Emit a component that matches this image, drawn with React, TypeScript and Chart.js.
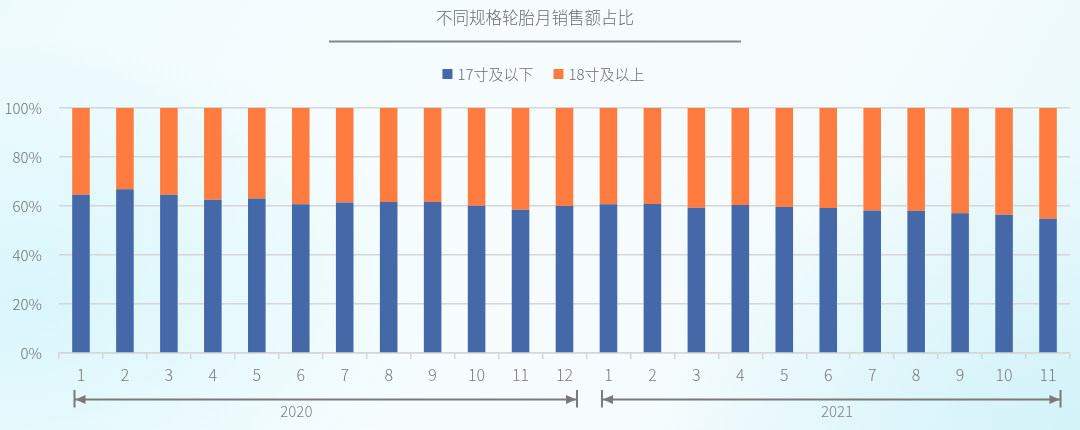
import React, { useEffect, useRef } from 'react';
import { Chart, registerables } from 'chart.js';

Chart.register(...registerables);

const titleText = '不同规格轮胎月销售额占比';
const seriesNames = ['17寸及以下', '18寸及以上'];
const months = ['1', '2', '3', '4', '5', '6', '7', '8', '9', '10', '11', '12',
  '1', '2', '3', '4', '5', '6', '7', '8', '9', '10', '11'];
const below17 = [64.6, 66.8, 64.6, 62.6, 63.1, 60.7, 61.4, 61.6, 61.6, 60.1, 58.5, 60.0,
  60.7, 60.8, 59.3, 60.4, 59.6, 59.2, 58.2, 58.1, 57.0, 56.4, 54.8];
const above18 = [35.4, 33.2, 35.4, 37.4, 36.9, 39.3, 38.6, 38.4, 38.4, 39.9, 41.5, 40.0,
  39.3, 39.2, 40.7, 39.6, 40.4, 40.8, 41.8, 41.9, 43.0, 43.6, 45.2];
const years = ['2020', '2021'];
const yearFirstIndex = [0, 12];
const yearLastIndex = [11, 22];
const yTicks = [0, 20, 40, 60, 80, 100];

const BLUE = '#4569a8';
const ORANGE = '#ff7c40';
const FONT = '"Noto Sans CJK SC", "Noto Sans", sans-serif';

const overlay = {
  id: 'overlay',
  afterDraw(chart: any) {
    const ctx = chart.ctx;
    const x = chart.scales.x;
    ctx.save();
    // Title
    ctx.fillStyle = '#6b6b6b';
    ctx.font = `300 16.5px ${FONT}`;
    ctx.textAlign = 'center';
    ctx.textBaseline = 'middle';
    ctx.fillText(titleText, 535, 18);
    // underline
    ctx.strokeStyle = '#858585';
    ctx.lineWidth = 2;
    ctx.beginPath();
    ctx.moveTo(329, 41.5);
    ctx.lineTo(741, 41.5);
    ctx.stroke();
    // Legend
    ctx.font = `300 15px ${FONT}`;
    ctx.textAlign = 'left';
    const colors = [BLUE, ORANGE];
    const widths = seriesNames.map((s) => ctx.measureText(s).width);
    const box = 10, gap = 5, itemGap = 20;
    const total = widths.reduce((a, w) => a + box + gap + w, 0) + itemGap * (seriesNames.length - 1);
    let lx = 543.5 - total / 2;
    seriesNames.forEach((s, i) => {
      ctx.fillStyle = colors[i];
      ctx.fillRect(lx, 69, box, box);
      ctx.fillStyle = '#6b6b6b';
      ctx.fillText(s, lx + box + gap, 74.5);
      lx += box + gap + widths[i] + itemGap;
    });
    // Year arrows
    const ay = 399.5;
    ctx.strokeStyle = '#7a7a7a';
    ctx.fillStyle = '#7a7a7a';
    years.forEach((yr, i) => {
      const x1 = x.getPixelForValue(yearFirstIndex[i]) - 6.5;
      const x2 = x.getPixelForValue(yearLastIndex[i]) + 12.5;
      ctx.lineWidth = 2;
      ctx.beginPath();
      ctx.moveTo(x1, ay);
      ctx.lineTo(x2, ay);
      ctx.moveTo(x1, 390);
      ctx.lineTo(x1, 407.5);
      ctx.moveTo(x2, 390);
      ctx.lineTo(x2, 407.5);
      ctx.stroke();
      ctx.beginPath();
      ctx.moveTo(x1 + 1, ay);
      ctx.lineTo(x1 + 11, ay - 4.5);
      ctx.lineTo(x1 + 11, ay + 4.5);
      ctx.closePath();
      ctx.fill();
      ctx.beginPath();
      ctx.moveTo(x2 - 1, ay);
      ctx.lineTo(x2 - 11, ay - 4.5);
      ctx.lineTo(x2 - 11, ay + 4.5);
      ctx.closePath();
      ctx.fill();
    });
    // Year labels
    ctx.fillStyle = '#808080';
    ctx.font = `300 15px ${FONT}`;
    ctx.textAlign = 'center';
    ctx.textBaseline = 'middle';
    const labelAt = [4.9, 17.2];
    years.forEach((yr, i) => {
      ctx.fillText(yr, x.getPixelForValue(labelAt[i]), 411.5);
    });
    ctx.restore();
  },
};

export default function App() {
  const ref = useRef<HTMLCanvasElement>(null);
  useEffect(() => {
    if (!ref.current) return;
    const chart = new Chart(ref.current, {
      type: 'bar',
      data: {
        labels: months,
        datasets: [
          { label: seriesNames[0], data: below17, backgroundColor: BLUE, borderWidth: 0 },
          { label: seriesNames[1], data: above18, backgroundColor: ORANGE, borderWidth: 0 },
        ],
      },
      options: {
        animation: false,
        responsive: true,
        maintainAspectRatio: false,
        layout: { padding: { top: 108, right: 10, bottom: 0, left: 0 } },
        datasets: { bar: { barPercentage: 0.4, categoryPercentage: 1 } },
        plugins: {
          legend: { display: false },
          title: { display: false },
          tooltip: { enabled: false },
        },
        scales: {
          x: {
            stacked: true,
            afterFit: (s: any) => { s.height = 77; },
            grid: {
              display: true,
              drawOnChartArea: false,
              drawTicks: true,
              tickLength: 6,
              color: '#d6d6d6',
              lineWidth: 1.5,
              offset: true,
            },
            border: { display: true, color: '#d6d6d6', width: 1.5 },
            ticks: {
              color: '#7a7a7a',
              font: { family: FONT, size: 16, weight: '300' },
              padding: 6,
              maxRotation: 0,
              autoSkip: false,
            },
          },
          y: {
            stacked: true,
            min: 0,
            max: 100,
            afterFit: (s: any) => { s.width = 59; },
            afterBuildTicks: (s: any) => { s.ticks = yTicks.map((v) => ({ value: v })); },
            grid: { color: '#d6d6d6', lineWidth: 1.5, drawTicks: false },
            border: { display: false },
            ticks: {
              color: '#707070',
              font: { family: FONT, size: 15, weight: '300' },
              padding: 17,
              callback: (v: any) => `${v}%`,
            },
          },
        },
      },
      plugins: [overlay],
    } as any);
    return () => chart.destroy();
  }, []);
  return (
    <div
      style={{
        position: 'fixed',
        left: 0,
        top: 0,
        width: 1080,
        height: 430,
        background:
          'radial-gradient(ellipse 420px 260px at 20px 300px, #d9f6fb 0%, rgba(217,246,251,0) 100%),' +
          'radial-gradient(ellipse 420px 280px at 1080px 420px, #d3f3f9 0%, rgba(211,243,249,0) 100%),' +
          'linear-gradient(120deg, #eefbfd 0%, #f7fdfe 40%, #f6fcfd 65%, #e6f8fb 100%)',
      }}
    >
      <canvas ref={ref} />
    </div>
  );
}
